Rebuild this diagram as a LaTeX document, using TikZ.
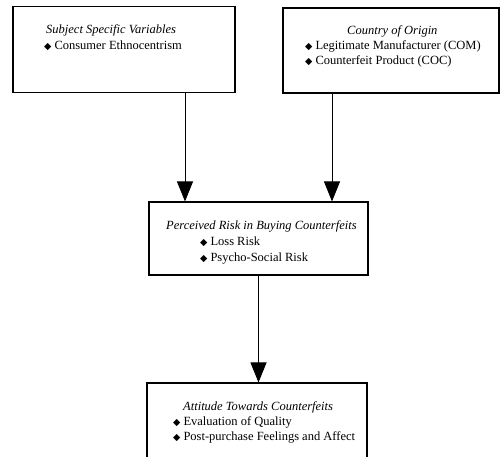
\documentclass[tikz,border=0pt]{standalone}
\usepackage{fontspec}
\setmainfont{Liberation Serif}
\newfontfamily\symfont{DejaVu Sans}
\usetikzlibrary{arrows.meta}
\newcommand{\bul}{{\symfont\fontsize{9.5}{9.5}\selectfont ◆}\hspace{3pt}}

\tikzset{
  box/.style={draw, line width=1.1pt, inner sep=0pt},
  txt/.style={anchor=base west, inner sep=0pt, font=\fontsize{12.5}{15}\selectfont},
  arr/.style={-{Triangle[width=16pt,length=20pt]}, line width=0.9pt}
}

\begin{document}
\begin{tikzpicture}[x=1pt,y=-1pt]
\useasboundingbox (0,0) rectangle (501,456);
\clip (0,0) rectangle (501,456);

% boxes
\node [box, minimum width=222pt, minimum height=86pt] (subj) at (124,49.5) {};
\node [box, minimum width=216pt, minimum height=85pt] (orig) at (391,50.5) {};
\node [box, minimum width=219pt, minimum height=73pt] (risk) at (258.5,238.5) {};
\node [box, minimum width=220pt, minimum height=90pt] (att) at (257,428) {};

% texts
\node [txt] (subjt) at (46,33) {\textit{Subject Specific Variables}};
\node [txt] (subj1) at (44,49) {\bul Consumer Ethnocentrism};

\node [txt] (origt) at (347,34) {\textit{Country of Origin}};
\node [txt] (orig1) at (305,49) {\bul Legitimate Manufacturer (COM)};
\node [txt] (orig2) at (305,64) {\bul Counterfeit Product (COC)};

\node [txt] (riskt) at (166,229) {\textit{Perceived Risk in Buying Counterfeits}};
\node [txt] (risk1) at (200,245) {\bul Loss Risk};
\node [txt] (risk2) at (200,261) {\bul Psycho-Social Risk};

\node [txt] (attt) at (183,410) {\textit{Attitude Towards Counterfeits}};
\node [txt] (att1) at (173,425) {\bul Evaluation of Quality};
\node [txt] (att2) at (173,440) {\bul Post-purchase Feelings and Affect};

% arrows
\draw [arr] ([xshift=61pt]subj.south) -- ([xshift=61pt]subj.south |- risk.north);
\draw [arr] ([xshift=-59pt]orig.south) -- ([xshift=-59pt]orig.south |- risk.north);
\draw [arr] (risk.south) -- (risk.south |- att.north);

\end{tikzpicture}
\end{document}
